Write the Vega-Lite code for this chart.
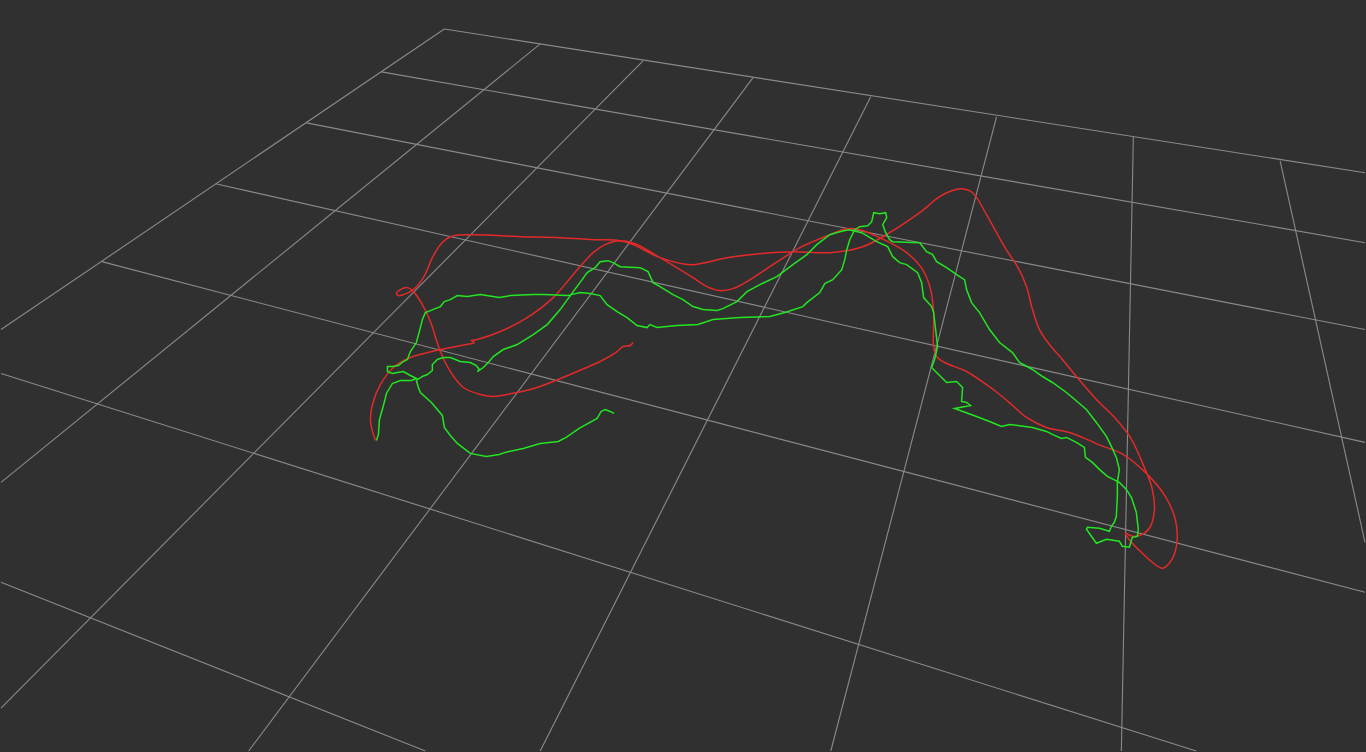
{
"$schema": "https://vega.github.io/schema/vega-lite/v6.json",
"width": 1366, "height": 752,
"autosize": {"type": "fit", "contains": "padding"},
"padding": 0,
"background": "#303030",
"config": {"view": {"stroke": null}},
"datasets": {
"grid": [
{"x":444,"y":29,"x2":1366,"y2":173},
{"x":381,"y":72,"x2":1366,"y2":243},
{"x":306,"y":123,"x2":1366,"y2":330},
{"x":215,"y":184,"x2":1366,"y2":443},
{"x":101,"y":262,"x2":1366,"y2":593},
{"x":0,"y":374,"x2":1197,"y2":752},
{"x":0,"y":583,"x2":425,"y2":752},
{"x":444,"y":29,"x2":0,"y2":330},
{"x":540,"y":44,"x2":0,"y2":483},
{"x":643,"y":61,"x2":0,"y2":709},
{"x":753,"y":78,"x2":248,"y2":752},
{"x":871,"y":97,"x2":540,"y2":752},
{"x":997,"y":117,"x2":831,"y2":752},
{"x":1134,"y":137,"x2":1122,"y2":752},
{"x":1281,"y":161,"x2":1366,"y2":543}
],
"red": [
{"s":"r","i":1,"x":633,"y":343},{"s":"r","i":2,"x":630,"y":346},{"s":"r","i":3,"x":623,"y":347},{"s":"r","i":4,"x":617,"y":352},{"s":"r","i":5,"x":600,"y":362},{"s":"r","i":6,"x":577,"y":372},{"s":"r","i":7,"x":553,"y":382},{"s":"r","i":8,"x":537,"y":388},{"s":"r","i":9,"x":517,"y":393},{"s":"r","i":10,"x":493,"y":397},
{"s":"r","i":11,"x":480,"y":395},{"s":"r","i":12,"x":463,"y":388},{"s":"r","i":13,"x":450,"y":372},{"s":"r","i":14,"x":440,"y":352},{"s":"r","i":15,"x":430,"y":322},{"s":"r","i":16,"x":422,"y":305},{"s":"r","i":17,"x":413,"y":292},{"s":"r","i":18,"x":407,"y":288},{"s":"r","i":19,"x":400,"y":290},{"s":"r","i":20,"x":396,"y":294},
{"s":"r","i":21,"x":398,"y":296},{"s":"r","i":22,"x":403,"y":295},{"s":"r","i":23,"x":413,"y":290},{"s":"r","i":24,"x":423,"y":278},{"s":"r","i":25,"x":432,"y":258},{"s":"r","i":26,"x":440,"y":245},{"s":"r","i":27,"x":450,"y":237},{"s":"r","i":28,"x":470,"y":235},{"s":"r","i":29,"x":520,"y":237},{"s":"r","i":30,"x":560,"y":238},
{"s":"r","i":31,"x":593,"y":240},{"s":"r","i":32,"x":620,"y":241},{"s":"r","i":33,"x":633,"y":245},{"s":"r","i":34,"x":660,"y":258},{"s":"r","i":35,"x":690,"y":265},{"s":"r","i":36,"x":705,"y":263},{"s":"r","i":37,"x":727,"y":258},{"s":"r","i":38,"x":760,"y":254},{"s":"r","i":39,"x":793,"y":252},{"s":"r","i":40,"x":830,"y":253},
{"s":"r","i":41,"x":863,"y":247},{"s":"r","i":42,"x":890,"y":233},{"s":"r","i":43,"x":920,"y":213},{"s":"r","i":44,"x":940,"y":197},{"s":"r","i":45,"x":952,"y":191},{"s":"r","i":46,"x":962,"y":189},{"s":"r","i":47,"x":973,"y":193},{"s":"r","i":48,"x":987,"y":215},{"s":"r","i":49,"x":997,"y":233},{"s":"r","i":50,"x":1008,"y":252},
{"s":"r","i":51,"x":1018,"y":267},{"s":"r","i":52,"x":1027,"y":287},{"s":"r","i":53,"x":1033,"y":310},{"s":"r","i":54,"x":1040,"y":330},{"s":"r","i":55,"x":1050,"y":345},{"s":"r","i":56,"x":1063,"y":360},{"s":"r","i":57,"x":1077,"y":377},{"s":"r","i":58,"x":1097,"y":400},{"s":"r","i":59,"x":1117,"y":420},{"s":"r","i":60,"x":1131,"y":438},
{"s":"r","i":61,"x":1145,"y":468},{"s":"r","i":62,"x":1153,"y":490},{"s":"r","i":63,"x":1155,"y":512},{"s":"r","i":64,"x":1150,"y":529},{"s":"r","i":65,"x":1141,"y":536},{"s":"r","i":66,"x":1133,"y":537},{"s":"r","i":67,"x":1126,"y":534},{"s":"r","i":68,"x":1132,"y":543},{"s":"r","i":69,"x":1141,"y":552},{"s":"r","i":70,"x":1153,"y":563},
{"s":"r","i":71,"x":1163,"y":569},{"s":"r","i":72,"x":1170,"y":564},{"s":"r","i":73,"x":1176,"y":552},{"s":"r","i":74,"x":1178,"y":538},{"s":"r","i":75,"x":1176,"y":520},{"s":"r","i":76,"x":1166,"y":497},{"s":"r","i":77,"x":1147,"y":474},{"s":"r","i":78,"x":1122,"y":454},{"s":"r","i":79,"x":1101,"y":446},{"s":"r","i":80,"x":1090,"y":441},
{"s":"r","i":81,"x":1070,"y":433},{"s":"r","i":82,"x":1047,"y":428},{"s":"r","i":83,"x":1027,"y":418},{"s":"r","i":84,"x":1012,"y":405},{"s":"r","i":85,"x":1000,"y":395},{"s":"r","i":86,"x":988,"y":386},{"s":"r","i":87,"x":967,"y":372},{"s":"r","i":88,"x":945,"y":363},{"s":"r","i":89,"x":937,"y":357},{"s":"r","i":90,"x":934,"y":347},
{"s":"r","i":91,"x":934,"y":313},{"s":"r","i":92,"x":931,"y":290},{"s":"r","i":93,"x":923,"y":270},{"s":"r","i":94,"x":907,"y":253},{"s":"r","i":95,"x":880,"y":238},{"s":"r","i":96,"x":860,"y":230},{"s":"r","i":97,"x":847,"y":229},{"s":"r","i":98,"x":830,"y":235},{"s":"r","i":99,"x":813,"y":242},{"s":"r","i":100,"x":800,"y":248},
{"s":"r","i":101,"x":773,"y":265},{"s":"r","i":102,"x":747,"y":282},{"s":"r","i":103,"x":733,"y":289},{"s":"r","i":104,"x":720,"y":291},{"s":"r","i":105,"x":707,"y":287},{"s":"r","i":106,"x":693,"y":278},{"s":"r","i":107,"x":660,"y":258},{"s":"r","i":108,"x":635,"y":244},{"s":"r","i":109,"x":620,"y":241},{"s":"r","i":110,"x":605,"y":245},
{"s":"r","i":111,"x":593,"y":253},{"s":"r","i":112,"x":573,"y":275},{"s":"r","i":113,"x":553,"y":298},{"s":"r","i":114,"x":527,"y":318},{"s":"r","i":115,"x":500,"y":332},{"s":"r","i":116,"x":477,"y":340},{"s":"r","i":117,"x":471,"y":341},{"s":"r","i":118,"x":474,"y":343},{"s":"r","i":119,"x":466,"y":345},{"s":"r","i":120,"x":440,"y":350},
{"s":"r","i":121,"x":410,"y":358},{"s":"r","i":122,"x":393,"y":368},{"s":"r","i":123,"x":380,"y":385},{"s":"r","i":124,"x":372,"y":405},{"s":"r","i":125,"x":370,"y":420},{"s":"r","i":126,"x":372,"y":432},{"s":"r","i":127,"x":375,"y":441}
],
"green": [
{"s":"g","i":1,"x":614,"y":414},{"s":"g","i":2,"x":610,"y":412},{"s":"g","i":3,"x":605,"y":410},{"s":"g","i":4,"x":601,"y":412},{"s":"g","i":5,"x":597,"y":419},{"s":"g","i":6,"x":579,"y":429},{"s":"g","i":7,"x":566,"y":438},{"s":"g","i":8,"x":558,"y":442},{"s":"g","i":9,"x":540,"y":444},{"s":"g","i":10,"x":523,"y":449},
{"s":"g","i":11,"x":505,"y":453},{"s":"g","i":12,"x":499,"y":455},{"s":"g","i":13,"x":486,"y":457},{"s":"g","i":14,"x":470,"y":454},{"s":"g","i":15,"x":457,"y":444},{"s":"g","i":16,"x":450,"y":436},{"s":"g","i":17,"x":444,"y":428},{"s":"g","i":18,"x":442,"y":416},{"s":"g","i":19,"x":431,"y":403},{"s":"g","i":20,"x":420,"y":393},
{"s":"g","i":21,"x":418,"y":388},{"s":"g","i":22,"x":416,"y":381},{"s":"g","i":23,"x":422,"y":377},{"s":"g","i":24,"x":427,"y":375},{"s":"g","i":25,"x":432,"y":371},{"s":"g","i":26,"x":432,"y":365},{"s":"g","i":27,"x":437,"y":360},{"s":"g","i":28,"x":443,"y":358},{"s":"g","i":29,"x":450,"y":358},{"s":"g","i":30,"x":460,"y":362},
{"s":"g","i":31,"x":470,"y":363},{"s":"g","i":32,"x":476,"y":366},{"s":"g","i":33,"x":479,"y":370},{"s":"g","i":34,"x":477,"y":372},{"s":"g","i":35,"x":483,"y":368},{"s":"g","i":36,"x":488,"y":363},{"s":"g","i":37,"x":493,"y":357},{"s":"g","i":38,"x":503,"y":350},{"s":"g","i":39,"x":517,"y":345},{"s":"g","i":40,"x":533,"y":335},
{"s":"g","i":41,"x":547,"y":325},{"s":"g","i":42,"x":560,"y":310},{"s":"g","i":43,"x":573,"y":292},{"s":"g","i":44,"x":582,"y":280},{"s":"g","i":45,"x":587,"y":273},{"s":"g","i":46,"x":595,"y":268},{"s":"g","i":47,"x":600,"y":262},{"s":"g","i":48,"x":608,"y":261},{"s":"g","i":49,"x":613,"y":263},{"s":"g","i":50,"x":620,"y":267},
{"s":"g","i":51,"x":640,"y":268},{"s":"g","i":52,"x":648,"y":272},{"s":"g","i":53,"x":653,"y":283},{"s":"g","i":54,"x":660,"y":287},{"s":"g","i":55,"x":673,"y":295},{"s":"g","i":56,"x":683,"y":300},{"s":"g","i":57,"x":693,"y":307},{"s":"g","i":58,"x":703,"y":310},{"s":"g","i":59,"x":717,"y":311},{"s":"g","i":60,"x":723,"y":309},
{"s":"g","i":61,"x":737,"y":302},{"s":"g","i":62,"x":747,"y":292},{"s":"g","i":63,"x":760,"y":285},{"s":"g","i":64,"x":777,"y":277},{"s":"g","i":65,"x":793,"y":265},{"s":"g","i":66,"x":807,"y":255},{"s":"g","i":67,"x":817,"y":245},{"s":"g","i":68,"x":830,"y":235},{"s":"g","i":69,"x":840,"y":232},{"s":"g","i":70,"x":849,"y":230},
{"s":"g","i":71,"x":862,"y":233},{"s":"g","i":72,"x":877,"y":242},{"s":"g","i":73,"x":888,"y":247},{"s":"g","i":74,"x":893,"y":257},{"s":"g","i":75,"x":900,"y":263},{"s":"g","i":76,"x":907,"y":265},{"s":"g","i":77,"x":918,"y":273},{"s":"g","i":78,"x":922,"y":283},{"s":"g","i":79,"x":924,"y":298},{"s":"g","i":80,"x":932,"y":307},
{"s":"g","i":81,"x":934,"y":313},{"s":"g","i":82,"x":936,"y":330},{"s":"g","i":83,"x":938,"y":347},{"s":"g","i":84,"x":935,"y":360},{"s":"g","i":85,"x":932,"y":368},{"s":"g","i":86,"x":942,"y":378},{"s":"g","i":87,"x":947,"y":383},{"s":"g","i":88,"x":957,"y":382},{"s":"g","i":89,"x":963,"y":388},{"s":"g","i":90,"x":962,"y":402},
{"s":"g","i":91,"x":967,"y":403},{"s":"g","i":92,"x":971,"y":406},{"s":"g","i":93,"x":955,"y":409},{"s":"g","i":94,"x":977,"y":417},{"s":"g","i":95,"x":990,"y":422},{"s":"g","i":96,"x":1002,"y":427},{"s":"g","i":97,"x":1010,"y":425},{"s":"g","i":98,"x":1033,"y":428},{"s":"g","i":99,"x":1047,"y":432},{"s":"g","i":100,"x":1055,"y":436},
{"s":"g","i":101,"x":1062,"y":439},{"s":"g","i":102,"x":1067,"y":438},{"s":"g","i":103,"x":1077,"y":443},{"s":"g","i":104,"x":1085,"y":448},{"s":"g","i":105,"x":1086,"y":458},{"s":"g","i":106,"x":1093,"y":463},{"s":"g","i":107,"x":1100,"y":470},{"s":"g","i":108,"x":1108,"y":477},{"s":"g","i":109,"x":1120,"y":483},{"s":"g","i":110,"x":1127,"y":490},
{"s":"g","i":111,"x":1132,"y":498},{"s":"g","i":112,"x":1137,"y":513},{"s":"g","i":113,"x":1139,"y":530},{"s":"g","i":114,"x":1138,"y":537},{"s":"g","i":115,"x":1133,"y":538},{"s":"g","i":116,"x":1130,"y":548},{"s":"g","i":117,"x":1123,"y":547},{"s":"g","i":118,"x":1120,"y":542},{"s":"g","i":119,"x":1107,"y":540},{"s":"g","i":120,"x":1097,"y":544},
{"s":"g","i":121,"x":1092,"y":537},{"s":"g","i":122,"x":1087,"y":530},{"s":"g","i":123,"x":1088,"y":528},{"s":"g","i":124,"x":1100,"y":529},{"s":"g","i":125,"x":1110,"y":532},{"s":"g","i":126,"x":1112,"y":527},{"s":"g","i":127,"x":1115,"y":523},{"s":"g","i":128,"x":1117,"y":517},{"s":"g","i":129,"x":1118,"y":497},{"s":"g","i":130,"x":1118,"y":483},
{"s":"g","i":131,"x":1120,"y":470},{"s":"g","i":132,"x":1117,"y":458},{"s":"g","i":133,"x":1112,"y":447},{"s":"g","i":134,"x":1107,"y":437},{"s":"g","i":135,"x":1097,"y":423},{"s":"g","i":136,"x":1087,"y":410},{"s":"g","i":137,"x":1073,"y":398},{"s":"g","i":138,"x":1067,"y":393},{"s":"g","i":139,"x":1053,"y":383},{"s":"g","i":140,"x":1043,"y":377},
{"s":"g","i":141,"x":1033,"y":370},{"s":"g","i":142,"x":1020,"y":363},{"s":"g","i":143,"x":1013,"y":353},{"s":"g","i":144,"x":1000,"y":343},{"s":"g","i":145,"x":990,"y":330},{"s":"g","i":146,"x":980,"y":313},{"s":"g","i":147,"x":972,"y":303},{"s":"g","i":148,"x":967,"y":290},{"s":"g","i":149,"x":965,"y":280},{"s":"g","i":150,"x":960,"y":277},
{"s":"g","i":151,"x":947,"y":268},{"s":"g","i":152,"x":937,"y":262},{"s":"g","i":153,"x":933,"y":255},{"s":"g","i":154,"x":927,"y":252},{"s":"g","i":155,"x":920,"y":243},{"s":"g","i":156,"x":893,"y":242},{"s":"g","i":157,"x":890,"y":240},{"s":"g","i":158,"x":886,"y":233},{"s":"g","i":159,"x":883,"y":225},{"s":"g","i":160,"x":887,"y":218},
{"s":"g","i":161,"x":886,"y":213},{"s":"g","i":162,"x":880,"y":214},{"s":"g","i":163,"x":874,"y":213},{"s":"g","i":164,"x":872,"y":222},{"s":"g","i":165,"x":868,"y":226},{"s":"g","i":166,"x":860,"y":227},{"s":"g","i":167,"x":855,"y":230},{"s":"g","i":168,"x":850,"y":240},{"s":"g","i":169,"x":847,"y":250},{"s":"g","i":170,"x":845,"y":260},
{"s":"g","i":171,"x":842,"y":270},{"s":"g","i":172,"x":833,"y":280},{"s":"g","i":173,"x":825,"y":284},{"s":"g","i":174,"x":820,"y":293},{"s":"g","i":175,"x":807,"y":303},{"s":"g","i":176,"x":803,"y":307},{"s":"g","i":177,"x":785,"y":313},{"s":"g","i":178,"x":770,"y":317},{"s":"g","i":179,"x":740,"y":318},{"s":"g","i":180,"x":713,"y":320},
{"s":"g","i":181,"x":698,"y":325},{"s":"g","i":182,"x":677,"y":326},{"s":"g","i":183,"x":657,"y":328},{"s":"g","i":184,"x":650,"y":325},{"s":"g","i":185,"x":647,"y":328},{"s":"g","i":186,"x":637,"y":326},{"s":"g","i":187,"x":627,"y":318},{"s":"g","i":188,"x":617,"y":312},{"s":"g","i":189,"x":607,"y":305},{"s":"g","i":190,"x":600,"y":296},
{"s":"g","i":191,"x":590,"y":294},{"s":"g","i":192,"x":580,"y":293},{"s":"g","i":193,"x":567,"y":296},{"s":"g","i":194,"x":544,"y":295},{"s":"g","i":195,"x":533,"y":295},{"s":"g","i":196,"x":510,"y":296},{"s":"g","i":197,"x":499,"y":298},{"s":"g","i":198,"x":480,"y":295},{"s":"g","i":199,"x":467,"y":297},{"s":"g","i":200,"x":457,"y":296},
{"s":"g","i":201,"x":450,"y":300},{"s":"g","i":202,"x":444,"y":302},{"s":"g","i":203,"x":440,"y":307},{"s":"g","i":204,"x":435,"y":309},{"s":"g","i":205,"x":430,"y":311},{"s":"g","i":206,"x":425,"y":313},{"s":"g","i":207,"x":422,"y":320},{"s":"g","i":208,"x":420,"y":328},{"s":"g","i":209,"x":416,"y":343},{"s":"g","i":210,"x":410,"y":352},
{"s":"g","i":211,"x":407,"y":360},{"s":"g","i":212,"x":403,"y":362},{"s":"g","i":213,"x":398,"y":366},{"s":"g","i":214,"x":392,"y":367},{"s":"g","i":215,"x":387,"y":367},{"s":"g","i":216,"x":387,"y":372},{"s":"g","i":217,"x":392,"y":374},{"s":"g","i":218,"x":397,"y":373},{"s":"g","i":219,"x":403,"y":372},{"s":"g","i":220,"x":410,"y":376},
{"s":"g","i":221,"x":416,"y":379},{"s":"g","i":222,"x":411,"y":381},{"s":"g","i":223,"x":400,"y":381},{"s":"g","i":224,"x":392,"y":384},{"s":"g","i":225,"x":386,"y":394},{"s":"g","i":226,"x":383,"y":406},{"s":"g","i":227,"x":379,"y":420},{"s":"g","i":228,"x":378,"y":435},{"s":"g","i":229,"x":376,"y":441}
]
},
"layer": [
{
"data": {"name": "grid"},
"mark": {"type": "rule", "color": "#8a8a8a", "strokeWidth": 1.1},
"encoding": {
"x": {"field": "x", "type": "quantitative", "scale": {"domain": [0, 1366], "nice": false, "zero": false}, "axis": null},
"y": {"field": "y", "type": "quantitative", "scale": {"domain": [0, 752], "reverse": true, "nice": false, "zero": false}, "axis": null},
"x2": {"field": "x2"},
"y2": {"field": "y2"}
}
},
{
"data": {"name": "red"},
"mark": {"type": "line", "strokeWidth": 1.5, "interpolate": "catmull-rom", "color": "#e22a2a"},
"encoding": {
"x": {"field": "x", "type": "quantitative", "scale": {"domain": [0, 1366], "nice": false, "zero": false}, "axis": null},
"y": {"field": "y", "type": "quantitative", "scale": {"domain": [0, 752], "reverse": true, "nice": false, "zero": false}, "axis": null},
"order": {"field": "i", "type": "quantitative"}
}
},
{
"data": {"name": "green"},
"mark": {"type": "line", "strokeWidth": 1.5, "interpolate": "linear", "color": "#22e622"},
"encoding": {
"x": {"field": "x", "type": "quantitative", "scale": {"domain": [0, 1366], "nice": false, "zero": false}, "axis": null},
"y": {"field": "y", "type": "quantitative", "scale": {"domain": [0, 752], "reverse": true, "nice": false, "zero": false}, "axis": null},
"order": {"field": "i", "type": "quantitative"}
}
}
]
}
